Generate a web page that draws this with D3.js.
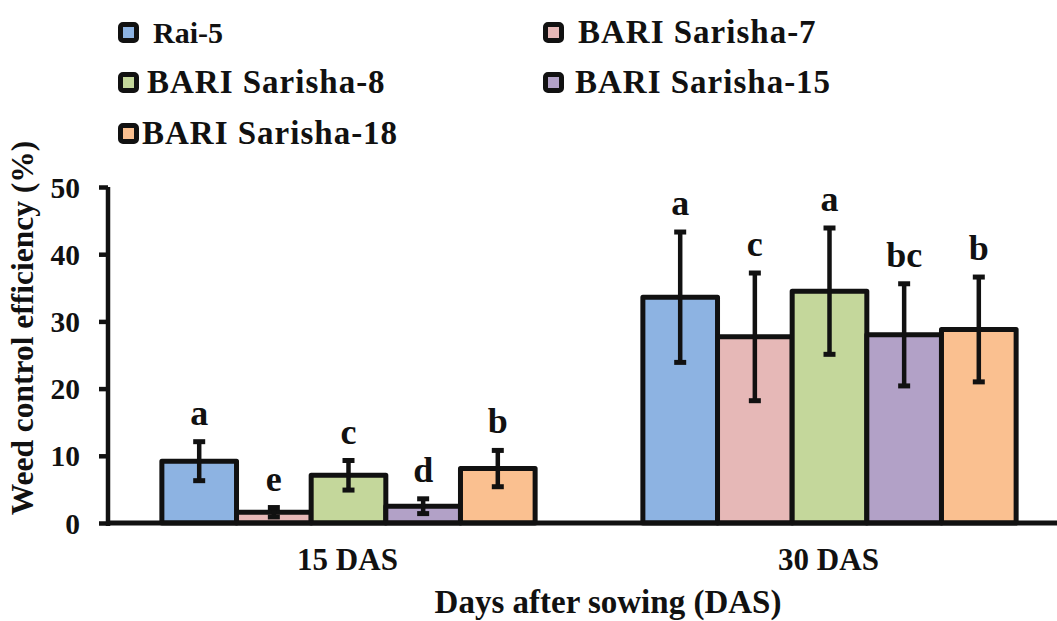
<!DOCTYPE html>
<html><head><meta charset="utf-8">
<script src="https://cdn.jsdelivr.net/npm/d3@7"></script>
<style>body{margin:0;background:#fff}svg{display:block}</style>
</head><body><svg id="c" width="1057" height="621"></svg>
<script>
const groups = ["15 DAS", "30 DAS"];
const varieties = ["Rai-5", "BARI Sarisha-7", "BARI Sarisha-8", "BARI Sarisha-15", "BARI Sarisha-18"];
const colors = ["#8db3e2", "#e6b8b7", "#c4d79b", "#b2a1c7", "#fac090"];
const means15 = [9.2, 1.6, 7.1, 2.5, 8.1];
const errs15 = [2.9, 0.7, 2.2, 1.1, 2.7];
const letters15 = ["a", "e", "c", "d", "b"];
const means30 = [33.6, 27.7, 34.5, 28.0, 28.8];
const errs30 = [9.7, 9.5, 9.4, 7.6, 7.8];
const letters30 = ["a", "c", "a", "bc", "b"];
const yTicks = [0, 10, 20, 30, 40, 50];

const FONT = "'Liberation Serif', 'Times New Roman', serif";
const svg = d3.select("#c");
const ink = "#111";
function styleText(sel, size) {
  return sel.style("font-family", FONT).style("font-weight", "bold").style("font-size", size).attr("fill", ink);
}
const y = d3.scaleLinear().domain([0, 50]).range([523, 187]);
const x0 = d3.scaleBand().domain(groups).range([108, 1070]).paddingInner(0.224).paddingOuter(0.112);
const x1 = d3.scaleBand().domain(varieties).range([0, x0.bandwidth()]);
const color = d3.scaleOrdinal().domain(varieties).range(colors);

const data = [];
groups.forEach((g, gi) => {
  const m = gi === 0 ? means15 : means30, e = gi === 0 ? errs15 : errs30, l = gi === 0 ? letters15 : letters30;
  varieties.forEach((v, i) => data.push({g, v, mean: m[i], err: e[i], letter: l[i]}));
});

// bars
svg.append("g").selectAll("rect").data(data).join("rect")
  .attr("x", d => x0(d.g) + x1(d.v))
  .attr("y", d => y(d.mean))
  .attr("width", x1.bandwidth())
  .attr("height", d => y(0) - y(d.mean))
  .attr("fill", d => color(d.v))
  .attr("stroke", ink).attr("stroke-width", 5).attr("stroke-linejoin", "round");

// error bars
const eb = svg.append("g").selectAll("g").data(data).join("g")
  .attr("transform", d => `translate(${x0(d.g) + x1(d.v) + x1.bandwidth() / 2},0)`);
eb.append("line").attr("y1", d => y(d.mean + d.err)).attr("y2", d => y(d.mean - d.err))
  .attr("stroke", ink).attr("stroke-width", 4.5);
eb.append("line").attr("x1", -6).attr("x2", 6).attr("y1", d => y(d.mean + d.err)).attr("y2", d => y(d.mean + d.err))
  .attr("stroke", ink).attr("stroke-width", 5);
eb.append("line").attr("x1", -6).attr("x2", 6).attr("y1", d => y(d.mean - d.err)).attr("y2", d => y(d.mean - d.err))
  .attr("stroke", ink).attr("stroke-width", 5);
styleText(eb.append("text").attr("text-anchor", "middle").attr("y", d => y(d.mean + d.err) - 17), "36px")
  .text(d => d.letter);

// y axis
const yAxis = svg.append("g").attr("transform", "translate(108,0)")
  .call(d3.axisLeft(y).tickValues(yTicks).tickSize(9).tickPadding(19));
yAxis.attr("font-family", null);
yAxis.select(".domain").remove();
yAxis.selectAll(".tick line").attr("stroke", ink).attr("stroke-width", 4.5);
styleText(yAxis.selectAll(".tick text"), "29.5px").attr("dy", "0.34em");
svg.append("line").attr("x1", 108).attr("x2", 108).attr("y1", y(50)).attr("y2", y(0) + 3)
  .attr("stroke", ink).attr("stroke-width", 4.5);

// x axis
svg.append("line").attr("x1", 106).attr("x2", 1057).attr("y1", y(0)).attr("y2", y(0))
  .attr("stroke", ink).attr("stroke-width", 5);
styleText(svg.append("g").selectAll("text").data(groups).join("text")
  .attr("x", d => x0(d) + x0.bandwidth() / 2 - 1).attr("y", 570)
  .attr("text-anchor", "middle"), "31px").text(d => d);

// axis titles
styleText(svg.append("text").attr("x", 608).attr("y", 613).attr("text-anchor", "middle"), "33px")
  .text("Days after sowing (DAS)");
styleText(svg.append("text").attr("transform", "translate(33,328) rotate(-90)").attr("text-anchor", "middle"), "31.5px")
  .text("Weed control efficiency (%)");

// legend
const legPos = [[118, 22, 153], [543, 22, 578], [118, 72, 147], [543, 72, 575], [118, 123, 142]];
const leg = svg.append("g").selectAll("g").data(varieties).join("g")
  .attr("transform", (d, i) => `translate(${legPos[i][0]},${legPos[i][1]})`);
leg.append("rect").attr("x", 2.5).attr("y", 2.5).attr("width", 16).attr("height", 16).attr("rx", 2.5)
  .attr("fill", d => color(d)).attr("stroke", ink).attr("stroke-width", 5);
leg.append("text").attr("x", (d, i) => legPos[i][2] - legPos[i][0]).attr("y", 21)
  .style("font-family", FONT).style("font-weight", "bold").attr("fill", ink)
  .style("font-size", (d, i) => i === 0 ? "30px" : "33px").style("letter-spacing", (d, i) => i === 0 ? "0px" : "1px")
  .text(d => d);
</script></body></html>
